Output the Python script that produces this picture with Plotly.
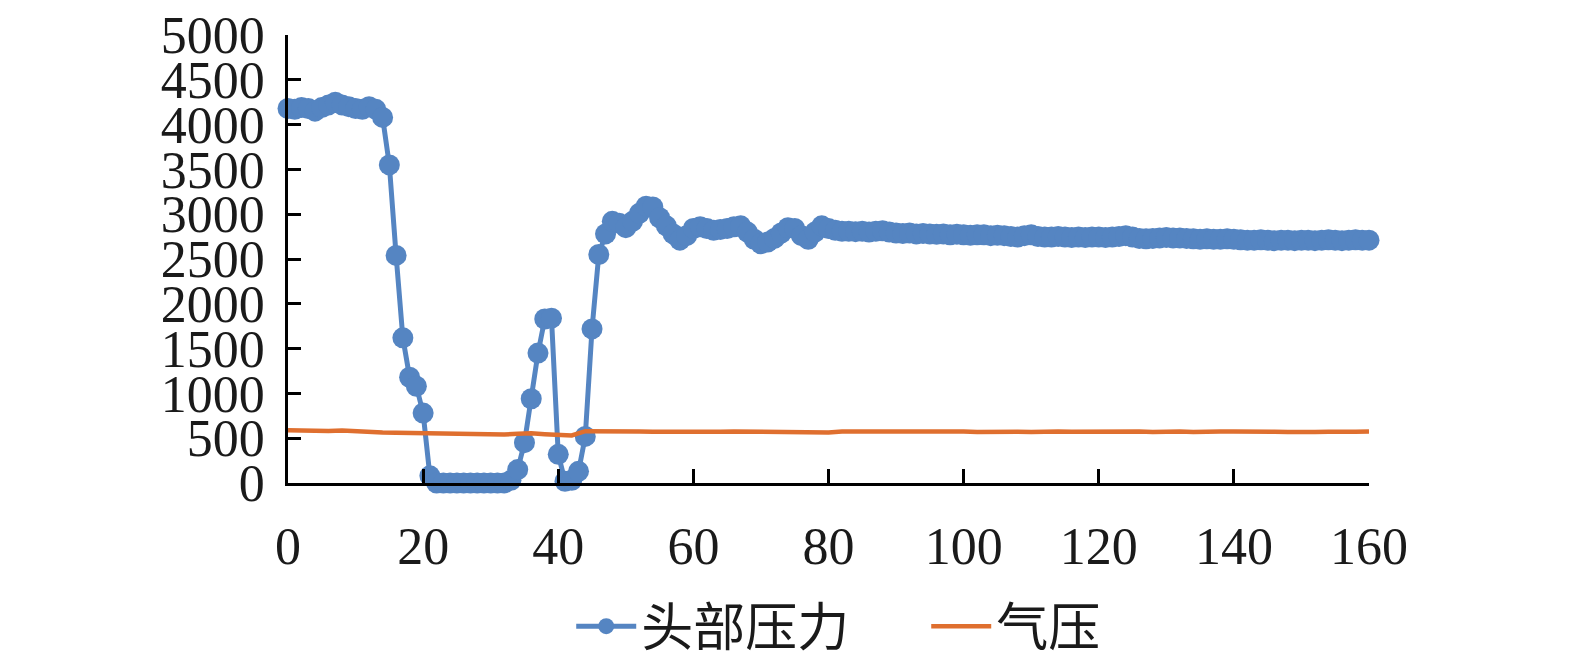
import plotly.graph_objects as go

# head pressure, one sample per unit on the x axis (0..160)
head_x = list(range(0, 161))
head_pressure = [
    4180, 4170, 4190, 4180, 4150, 4190, 4220, 4250, 4220, 4200,
    4180, 4170, 4200, 4170, 4080, 3550, 2540, 1620, 1180, 1080,
    780, 80, 0, 0, 0, 0, 0, 0, 0, 0,
    0, 0, 0, 30, 150, 450, 940, 1450, 1830, 1840,
    320, 20, 30, 130, 520, 1720, 2550, 2780, 2920, 2900,
    2850, 2920, 3010, 3090, 3080, 2960, 2870, 2780, 2710, 2760,
    2840, 2860, 2840, 2820, 2830, 2840, 2860, 2870, 2800, 2720,
    2670, 2690, 2730, 2790, 2850, 2840, 2760, 2720, 2800, 2870,
    2840, 2820, 2810, 2810, 2805, 2810, 2800, 2810, 2815, 2800,
    2790, 2785, 2790, 2780, 2785, 2780, 2775, 2780, 2770, 2775,
    2770, 2765, 2770, 2770, 2760, 2765, 2760, 2750, 2745, 2760,
    2770, 2750, 2745, 2745, 2750, 2745, 2740, 2745, 2740, 2745,
    2745, 2740, 2745, 2750, 2760, 2745, 2730, 2725, 2730, 2735,
    2740, 2735, 2735, 2730, 2725, 2720, 2725, 2720, 2720, 2725,
    2720, 2715, 2710, 2710, 2715, 2710, 2705, 2710, 2710, 2705,
    2710, 2710, 2705, 2710, 2715, 2710, 2705, 2710, 2715, 2710,
    2710,
]

# air pressure, read every 2 units
air_x = list(range(0, 161, 2))
air_pressure = [
    590, 585, 588, 580, 585, 575, 570, 565, 562, 560,
    552, 548, 550, 546, 548, 545, 540, 550, 555, 545,
    538, 530, 578, 580, 578, 575, 575, 572, 570, 574,
    578, 575, 572, 576, 574, 570, 575, 576, 572, 570,
    565, 574, 575, 568, 572, 575, 570, 574, 576, 572,
    575, 570, 574, 566, 572, 570, 575, 574, 572, 575,
    576, 574, 572, 575, 568, 574, 575, 570, 566, 574,
    575, 570, 566, 572, 568, 574, 570, 572, 566, 572,
    575,
]

y_ticks = [0, 500, 1000, 1500, 2000, 2500, 3000, 3500, 4000, 4500, 5000]
x_ticks = [0, 20, 40, 60, 80, 100, 120, 140, 160]

blue = '#5585c2'
orange = '#df6f2f'
serif = 'Liberation Serif, Noto Sans CJK SC'

fig = go.Figure()

fig.add_trace(go.Scatter(
    x=head_x, y=head_pressure, name='头部压力',
    mode='lines+markers',
    line=dict(color=blue, width=5),
    marker=dict(color=blue, size=21),
    cliponaxis=False
))

fig.add_trace(go.Scatter(
    x=air_x, y=air_pressure, name='气压',
    mode='lines',
    line=dict(color=orange, width=4.5),
    cliponaxis=False
))

axis_style = dict(
    showline=True, linecolor='black', linewidth=2.5,
    ticks='inside', tickcolor='black', tickwidth=2.5,
    showgrid=False, zeroline=False, automargin=False,
    ticklabeloverflow='allow',
    tickfont=dict(family=serif, size=52, color='#1a1a1a')
)

fig.update_xaxes(range=[0, 160], tickvals=x_ticks, ticklen=14,
                 ticklabelstandoff=16, **axis_style)
fig.update_yaxes(range=[0, 5000], tickvals=y_ticks, ticklen=13,
                 ticklabelstandoff=10, **axis_style)

# page body adds an 8px offset, so margins are shifted to compensate
fig.update_layout(
    width=1575, height=657,
    margin=dict(l=280, r=214, t=27, b=182, autoexpand=False),
    plot_bgcolor='white', paper_bgcolor='white',
    legend=dict(orientation='h', x=0.262, xanchor='left',
                y=-0.32, yanchor='middle',
                itemwidth=60, entrywidth=280,
                font=dict(family=serif, size=52, color='#1a1a1a')),
    showlegend=True
)

fig.write_html("out.html")
